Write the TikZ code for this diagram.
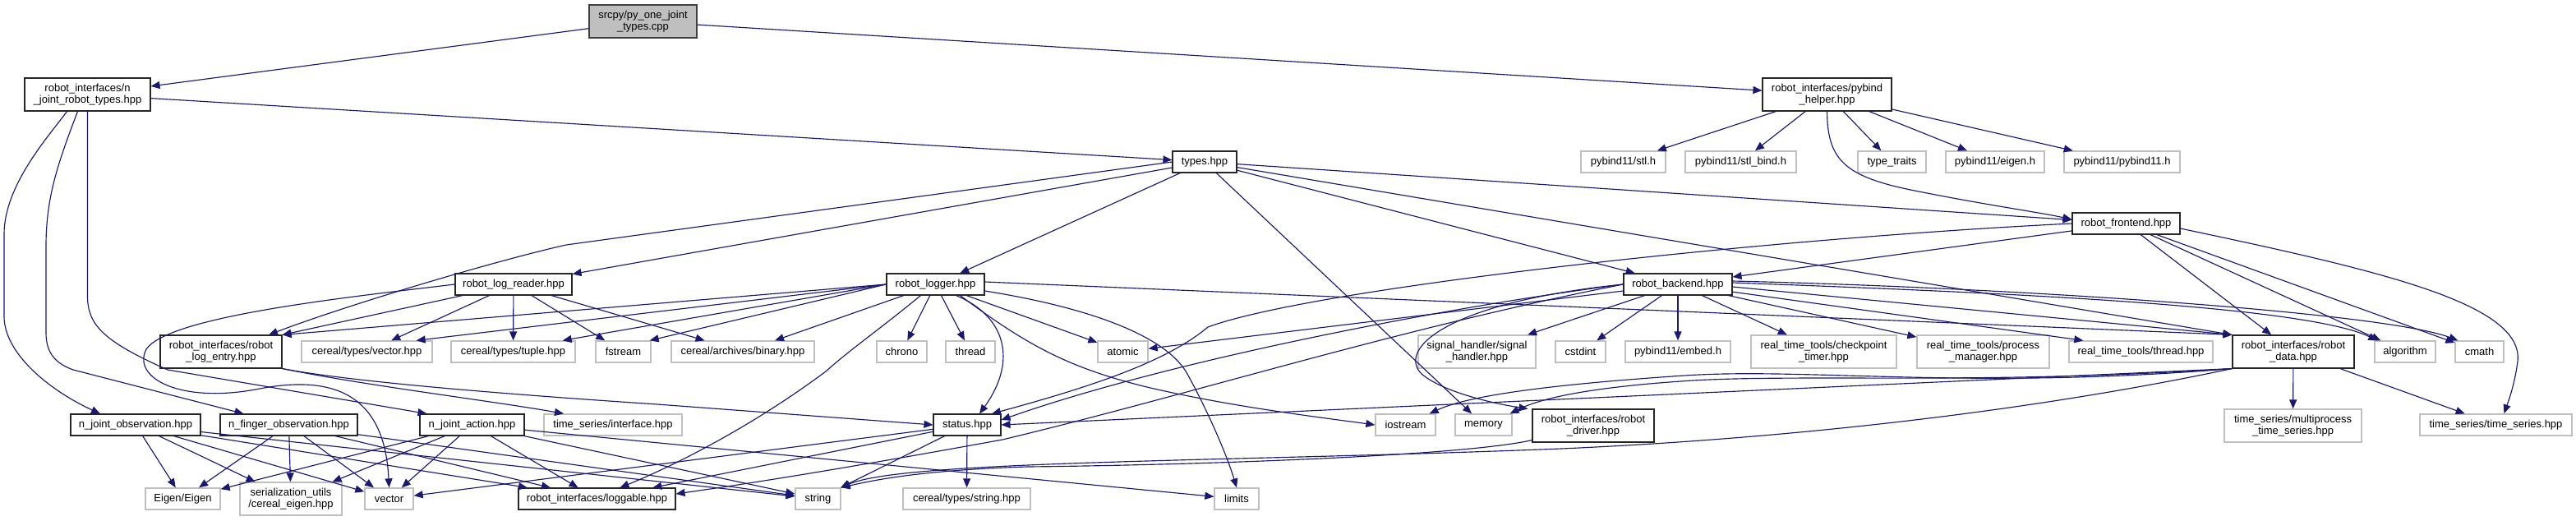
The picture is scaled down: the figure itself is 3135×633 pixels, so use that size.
\documentclass[tikz,border=0pt]{standalone}
\usepackage{fontspec}
\setmainfont{Liberation Sans}
\usetikzlibrary{arrows.meta}
\definecolor{edgec}{HTML}{191970}
\definecolor{graybd}{HTML}{BFBFBF}
\tikzset{
  box/.style={rectangle, inner sep=0pt, align=center, font=\fontsize{13}{14.5}\selectfont, line width=1.3pt, fill=white},
  proj/.style={box, draw=black!85, line width=1.1pt},
  ext/.style={box, draw=graybd},
  rootbox/.style={box, draw=black!75, fill=graybd, line width=1.1pt},
  hone/.style={minimum height=26pt},
  htwo/.style={minimum height=40pt},
  e/.style={draw=edgec, line width=1.15pt, -{Triangle[length=11pt,width=9pt]}},
}
\begin{document}
\begin{tikzpicture}[x=1pt,y=-1pt]
\useasboundingbox (0,0) rectangle (3135,633);
% nodes
\node[rootbox, htwo, minimum width=131pt] (root) at (782.5,26) {srcpy/py\_one\_joint\\\_types.cpp};
\node[proj, htwo, minimum width=153pt] (njtypes) at (106.5,115) {robot\_interfaces/n\\\_joint\_robot\_types.hpp};
\node[proj, htwo, minimum width=157pt] (pyhelp) at (2223.5,115) {robot\_interfaces/pybind\\\_helper.hpp};
\node[proj, hone, minimum width=78pt] (types) at (1466,197) {types.hpp};
\node[ext, hone, minimum width=103pt] (stl) at (1975.5,197) {pybind11/stl.h};
\node[ext, hone, minimum width=135pt] (stlbind) at (2118.5,197) {pybind11/stl\_bind.h};
\node[ext, hone, minimum width=83pt] (typetraits) at (2302.5,197) {type\_traits};
\node[ext, hone, minimum width=120pt] (eigenh) at (2428,197) {pybind11/eigen.h};
\node[ext, hone, minimum width=141pt] (pyb) at (2582.5,197) {pybind11/pybind11.h};
\node[proj, hone, minimum width=131pt] (frontend) at (2587.5,272) {robot\_frontend.hpp};
\node[proj, hone, minimum width=142pt] (logreader) at (625,346) {robot\_log\_reader.hpp};
\node[proj, hone, minimum width=119pt] (logger) at (1138.5,346) {robot\_logger.hpp};
\node[proj, hone, minimum width=132pt] (backend) at (2042,346) {robot\_backend.hpp};
\node[proj, htwo, minimum width=148pt] (logentry) at (269,428) {robot\_interfaces/robot\\\_log\_entry.hpp};
\node[ext, hone, minimum width=159pt] (cvector) at (446.5,428) {cereal/types/vector.hpp};
\node[ext, hone, minimum width=151pt] (ctuple) at (624.5,428) {cereal/types/tuple.hpp};
\node[ext, hone, minimum width=67pt] (fstream) at (758.5,428) {fstream};
\node[ext, hone, minimum width=174pt] (cbinary) at (904,428) {cereal/archives/binary.hpp};
\node[ext, hone, minimum width=61pt] (chrono) at (1097.5,428) {chrono};
\node[ext, hone, minimum width=60pt] (thread) at (1181,428) {thread};
\node[ext, hone, minimum width=61pt] (atomic) at (1366.5,428) {atomic};
\node[ext, htwo, minimum width=143pt] (signal) at (1797.5,428) {signal\_handler/signal\\\_handler.hpp};
\node[ext, hone, minimum width=61pt] (cstdint) at (1923.5,428) {cstdint};
\node[ext, hone, minimum width=128pt] (embed) at (2042,428) {pybind11/embed.h};
\node[ext, htwo, minimum width=177pt] (checkpoint) at (2219.5,428) {real\_time\_tools/checkpoint\\\_timer.hpp};
\node[ext, htwo, minimum width=161pt] (process) at (2413.5,428) {real\_time\_tools/process\\\_manager.hpp};
\node[ext, hone, minimum width=175pt] (rtthread) at (2605.5,428) {real\_time\_tools/thread.hpp};
\node[proj, htwo, minimum width=148pt] (data) at (2791,428) {robot\_interfaces/robot\\\_data.hpp};
\node[ext, hone, minimum width=74pt] (algorithm) at (2927,428) {algorithm};
\node[ext, hone, minimum width=59pt] (cmath) at (3017.5,428) {cmath};
\node[proj, hone, minimum width=158pt] (njobs) at (165,517) {n\_joint\_observation.hpp};
\node[proj, hone, minimum width=167pt] (nfobs) at (351.5,517) {n\_finger\_observation.hpp};
\node[proj, hone, minimum width=127pt] (njact) at (574.5,517) {n\_joint\_action.hpp};
\node[ext, hone, minimum width=168pt] (tsiface) at (746,517) {time\_series/interface.hpp};
\node[proj, hone, minimum width=82pt] (status) at (1177,517) {status.hpp};
\node[ext, hone, minimum width=73pt] (iostream) at (1710.5,517) {iostream};
\node[ext, hone, minimum width=69pt] (memory) at (1805.5,517) {memory};
\node[proj, htwo, minimum width=148pt] (driver) at (1939,518) {robot\_interfaces/robot\\\_driver.hpp};
\node[ext, htwo, minimum width=167pt] (multiproc) at (2790.5,518) {time\_series/multiprocess\\\_time\_series.hpp};
\node[ext, hone, minimum width=185pt] (tsts) at (3037.5,517) {time\_series/time\_series.hpp};
\node[ext, hone, minimum width=91pt] (eigen) at (222.5,607) {Eigen/Eigen};
\node[ext, htwo, minimum width=124pt] (serutils) at (354,607) {serialization\_utils\\/cereal\_eigen.hpp};
\node[ext, hone, minimum width=59pt] (vector) at (473.5,607) {vector};
\node[proj, hone, minimum width=191pt] (loggable) at (726.5,607) {robot\_interfaces/loggable.hpp};
\node[ext, hone, minimum width=55pt] (string) at (995.5,607) {string};
\node[ext, hone, minimum width=155pt] (cstring) at (1176.5,607) {cereal/types/string.hpp};
\node[ext, hone, minimum width=54pt] (limits) at (1505,607) {limits};
% root
\draw[e] (root) -- (njtypes);
\draw[e] (root) -- (pyhelp);
% n_joint_robot_types
\draw[e] (njtypes) -- (types);
\draw[e] ([xshift=-25pt]njtypes.south) .. controls (60,165) and (5,225) .. (5,285) -- (5,385) .. controls (5,430) and (60,475) .. ([xshift=-43pt]njobs.north);
\draw[e] ([xshift=-12pt]njtypes.south) .. controls (70,200) and (56,240) .. (56,300) -- (56,405) .. controls (56,432) and (70,443) .. (89,450) -- ([xshift=-55pt]nfobs.north);
\draw[e] (njtypes.south) -- (106.5,360) .. controls (106.5,395) and (125,415) .. (204,450) -- ([xshift=-55pt]njact.north);
% pybind helper
\draw[e] (pyhelp) -- (stl);
\draw[e] (pyhelp) -- (stlbind);
\draw[e] (pyhelp) -- (typetraits);
\draw[e] (pyhelp) -- (eigenh);
\draw[e] (pyhelp) -- (pyb);
\draw[e] (pyhelp.south) .. controls (2224,195) and (2245,215) .. (2330,232) .. controls (2420,250) and (2480,258) .. ([yshift=5pt]frontend.west);
% types
\draw[e] (types) -- (logreader);
\draw[e] (types.west) -- (689,298) .. controls (600,318) and (420,372) .. ([xshift=58pt]logentry.north);
\draw[e] (types) -- (logger);
\draw[e] (types) -- (memory);
\draw[e] (types) -- (backend);
\draw[e] (types) -- (frontend);
\draw[e] (types) -- (data.north west);
% frontend
\draw[e] (frontend) -- (backend);
\draw[e] (frontend.west) .. controls (2150,290) and (1600,350) .. (1470,398) .. controls (1420,440) and (1330,470) .. ([xshift=30pt]status.north);
\draw[e] (frontend) -- (data);
\draw[e] (frontend) -- (algorithm);
\draw[e] (frontend) -- (cmath);
\draw[e] ([yshift=-6pt]frontend.east) .. controls (2900,330) and (3072,370) .. (3064,440) .. controls (3060,470) and (3052,490) .. ([xshift=10pt]tsts.north);
% log reader
\draw[e] (logreader) -- (logentry.north east);
\draw[e] (logreader) -- (cvector);
\draw[e] (logreader) -- (ctuple);
\draw[e] (logreader) -- (fstream);
\draw[e] (logreader) -- (cbinary);
\draw[e] (logreader.west) .. controls (420,362) and (205,385) .. (178,425) .. controls (160,460) and (220,492) .. (316,473) .. controls (400,457) and (468,475) .. (vector.north);
% logger
\draw[e] (logger.west) -- (logentry.north east);
\draw[e] (logger.west) -- ([xshift=-20pt]cvector.north east);
\draw[e] (logger.west) -- ([xshift=-16pt]ctuple.north east);
\draw[e] (logger.west) -- ([xshift=-2pt]fstream.north east);
\draw[e] (logger) -- (cbinary);
\draw[e] (logger) -- (chrono);
\draw[e] (logger) -- (thread);
\draw[e] ([xshift=25pt]logger.south) .. controls (1225,385) and (1238,440) .. ([xshift=15pt]status.north);
\draw[e] (logger) -- (atomic);
\draw[e] ([yshift=-8pt]logger.east) .. controls (1330,375) and (1420,410) .. (1445,455) .. controls (1475,510) and (1495,560) .. (limits.north);
\draw[e] ([xshift=30pt]logger.south) .. controls (1250,420) and (1300,448) .. (1400,472) .. controls (1500,495) and (1600,507) .. (iostream.west);
\draw[e] ([xshift=-18pt]logger.south) .. controls (1065,405) and (1035,425) .. (1005,452) .. controls (900,530) and (800,575) .. ([xshift=28pt]loggable.north);
\draw[e] ([yshift=3pt]logger.east) -- (data.north west);
% log entry
\draw[e] (logentry.south east) .. controls (430,465) and (620,480) .. (800,492) -- (status.west);
\draw[e] (logentry.south east) .. controls (450,470) and (600,488) .. ([xshift=-60pt]tsiface.north);
% backend
\draw[e] (backend) -- (signal);
\draw[e] (backend) -- (cstdint);
\draw[e] (backend) -- (embed);
\draw[e] (backend) -- (checkpoint);
\draw[e] (backend) -- (process);
\draw[e] (backend) -- ([xshift=18pt]rtthread.north west);
\draw[e] ([yshift=-3pt]backend.east) -- (data.north west);
\draw[e] ([yshift=2pt]backend.east) .. controls (2400,355) and (2800,370) .. ([xshift=4pt]algorithm.north west);
\draw[e] ([yshift=4pt]backend.east) .. controls (2450,350) and (2900,380) .. ([xshift=4pt]cmath.north west);
\draw[e] (backend) -- (atomic);
\draw[e] (backend.west) .. controls (1750,375) and (1420,440) .. ([yshift=6pt]status.east);
\draw[e] (backend.west) .. controls (1700,400) and (1450,480) .. (1220,535) .. controls (1000,575) and (900,590) .. ([yshift=6pt]loggable.east);
\draw[e] (backend.west) .. controls (1760,368) and (1700,425) .. (1730,455) .. controls (1760,480) and (1830,493) .. ([xshift=-5pt]driver.north west);
% robot data
\draw[e] (data.south west) -- (status.east);
\draw[e] (data.south west) .. controls (2400,475) and (2200,447) .. (2050,457) .. controls (1900,467) and (1790,480) .. ([xshift=-8pt]iostream.north east);
\draw[e] (data.south west) .. controls (2420,468) and (2200,455) .. (2060,463) .. controls (1950,470) and (1880,482) .. ([xshift=-3pt]memory.north east);
\draw[e] (data.south west) .. controls (2450,505) and (2150,535) .. (1900,546) .. controls (1500,562) and (1100,560) .. (string.north east);
\draw[e] (data) -- (multiproc);
\draw[e] (data) -- (tsts);
% robot driver
\draw[e] ([yshift=3pt]driver.south west) .. controls (1780,555) and (1450,566) .. (1250,568) .. controls (1120,572) and (1060,585) .. (string.north east);
% status
\draw[e] (status) -- (vector);
\draw[e] (status) -- (loggable);
\draw[e] (status) -- (string);
\draw[e] (status) -- (cstring);
% observations / action
\foreach \s in {njobs,nfobs,njact}{
  \foreach \t in {eigen,serutils,vector,loggable,string}{
    \draw[e] (\s) -- (\t);
  }
}
\draw[e] (njact) -- (limits);
\end{tikzpicture}
\end{document}
